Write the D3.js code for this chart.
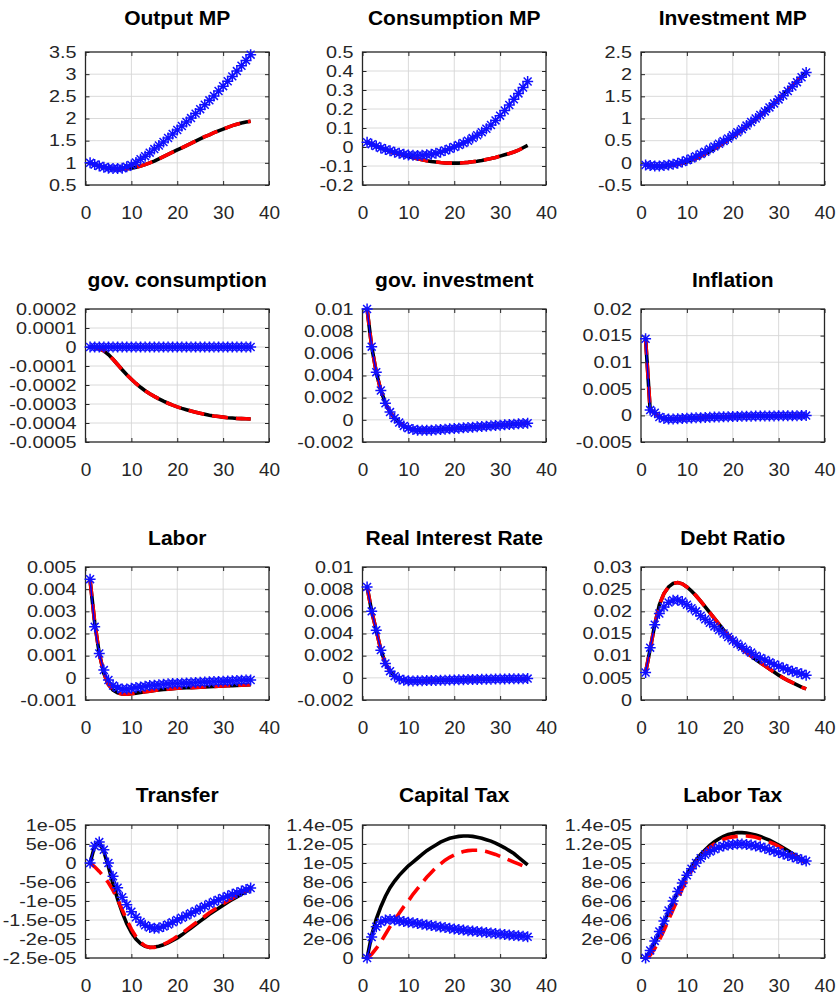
<!DOCTYPE html>
<html>
<head>
<meta charset="utf-8">
<script src="https://cdn.jsdelivr.net/npm/d3@7"></script>
<style>
  body { margin: 0; background: #fff; }
  text { font-family: "Liberation Sans", Arial, sans-serif; }
</style>
</head>
<body>
<div id="fig"></div>
<script>
// periods of the impulse responses
const periods = [1,2,3,4,5,6,7,8,9,10,11,12,13,14,15,16,17,18,19,20,21,22,23,24,25,26,27,28,29,30,31,32,33,34,35,36];
const xLabels = ["0","10","20","30","40"];

// Output MP
const outputBlack = [1.00,0.96,0.93,0.90,0.88,0.87,0.86,0.86,0.87,0.88,0.90,0.93,0.96,1.00,1.04,1.09,1.14,1.19,1.24,1.29,1.34,1.39,1.44,1.49,1.54,1.59,1.63,1.68,1.72,1.76,1.80,1.84,1.87,1.90,1.92,1.94];
const outputBlue = [1.00,0.96,0.93,0.90,0.88,0.87,0.87,0.88,0.91,0.95,1.01,1.08,1.15,1.23,1.31,1.39,1.47,1.56,1.65,1.74,1.83,1.92,2.01,2.11,2.21,2.31,2.41,2.51,2.62,2.73,2.84,2.95,3.07,3.19,3.31,3.44];
const outputTicks = ["0.5","1","1.5","2","2.5","3","3.5"];

// Consumption MP
const consBlack = [0.025,0.015,0.005,-0.005,-0.014,-0.022,-0.03,-0.037,-0.044,-0.05,-0.056,-0.062,-0.067,-0.072,-0.076,-0.079,-0.082,-0.084,-0.085,-0.085,-0.085,-0.083,-0.081,-0.078,-0.075,-0.071,-0.066,-0.061,-0.055,-0.048,-0.041,-0.034,-0.026,-0.017,-0.004,0.008];
const consBlue = [0.025,0.015,0.005,-0.005,-0.013,-0.02,-0.027,-0.033,-0.038,-0.042,-0.044,-0.045,-0.044,-0.041,-0.038,-0.033,-0.027,-0.018,-0.009,0.0,0.01,0.021,0.033,0.047,0.062,0.078,0.096,0.116,0.14,0.165,0.192,0.221,0.251,0.282,0.313,0.345];
const consTicks = ["-0.2","-0.1","0","0.1","0.2","0.3","0.4","0.5"];

// Investment MP
const invBlack = [-0.05,-0.06,-0.07,-0.07,-0.07,-0.06,-0.05,-0.03,-0.01,0.02,0.06,0.10,0.15,0.20,0.26,0.32,0.38,0.45,0.52,0.59,0.66,0.74,0.82,0.90,0.98,1.07,1.16,1.25,1.34,1.44,1.54,1.64,1.74,1.84,1.94,2.04];
const invBlue = [-0.05,-0.06,-0.07,-0.07,-0.06,-0.05,-0.03,-0.01,0.02,0.06,0.10,0.15,0.20,0.25,0.31,0.37,0.43,0.49,0.55,0.62,0.69,0.76,0.84,0.92,1.00,1.08,1.16,1.25,1.34,1.43,1.52,1.62,1.72,1.82,1.93,2.04];
const invTicks = ["-0.5","0","0.5","1","1.5","2","2.5"];

// gov. consumption
const govcBlack = [0,-2e-6,-8e-6,-2e-5,-4e-5,-6.5e-5,-9.2e-5,-1.2e-4,-1.46e-4,-1.7e-4,-1.92e-4,-2.12e-4,-2.3e-4,-2.46e-4,-2.6e-4,-2.73e-4,-2.85e-4,-2.96e-4,-3.06e-4,-3.15e-4,-3.23e-4,-3.3e-4,-3.37e-4,-3.43e-4,-3.49e-4,-3.54e-4,-3.59e-4,-3.63e-4,-3.66e-4,-3.69e-4,-3.72e-4,-3.74e-4,-3.76e-4,-3.77e-4,-3.78e-4,-3.79e-4];
const govcBlue = [0,0,0,0,0,0,0,0,0,0,0,0,0,0,0,0,0,0,0,0,0,0,0,0,0,0,0,0,0,0,0,0,0,0,0,0];
const govcTicks = ["-0.0005","-0.0004","-0.0003","-0.0002","-0.0001","0","0.0001","0.0002"];

// gov. investment
const goviAll = [1.0e-2,6.6e-3,4.3e-3,2.65e-3,1.5e-3,7e-4,1.5e-4,-2.5e-4,-5.5e-4,-7.5e-4,-8.7e-4,-9.3e-4,-9.5e-4,-9.5e-4,-9.3e-4,-9.0e-4,-8.7e-4,-8.4e-4,-8.1e-4,-7.8e-4,-7.5e-4,-7.2e-4,-6.9e-4,-6.6e-4,-6.3e-4,-6.0e-4,-5.7e-4,-5.4e-4,-5.1e-4,-4.8e-4,-4.5e-4,-4.2e-4,-3.9e-4,-3.6e-4,-3.3e-4,-3.0e-4];
const goviTicks = ["-0.002","0","0.002","0.004","0.006","0.008","0.01"];

// Inflation
const inflAll = [1.44e-2,1.0e-3,5e-4,-3e-4,-6e-4,-7e-4,-7e-4,-6.5e-4,-6e-4,-5.5e-4,-5e-4,-4.6e-4,-4.2e-4,-3.8e-4,-3.5e-4,-3.2e-4,-2.9e-4,-2.6e-4,-2.4e-4,-2.2e-4,-2e-4,-1.8e-4,-1.6e-4,-1.4e-4,-1.3e-4,-1.2e-4,-1.1e-4,-1e-4,-9e-5,-8e-5,-7e-5,-6e-5,-5e-5,-5e-5,-4e-5,-4e-5];
const inflTicks = ["-0.005","0","0.005","0.01","0.015","0.02"];

// Labor
const laborBlack = [4.4e-3,2.5e-3,1.1e-3,2e-4,-3e-4,-5.5e-4,-6.8e-4,-7.3e-4,-7.4e-4,-7.2e-4,-6.9e-4,-6.6e-4,-6.3e-4,-6e-4,-5.7e-4,-5.5e-4,-5.3e-4,-5.1e-4,-4.9e-4,-4.7e-4,-4.6e-4,-4.5e-4,-4.4e-4,-4.3e-4,-4.2e-4,-4.1e-4,-4e-4,-3.9e-4,-3.8e-4,-3.7e-4,-3.6e-4,-3.5e-4,-3.4e-4,-3.3e-4,-3.2e-4,-3.1e-4];
const laborBlue = [4.45e-3,2.3e-3,1.1e-3,3.5e-4,-1e-4,-3.5e-4,-4.5e-4,-5e-4,-5e-4,-4.7e-4,-4.4e-4,-4.1e-4,-3.8e-4,-3.5e-4,-3.3e-4,-3.1e-4,-2.9e-4,-2.7e-4,-2.6e-4,-2.5e-4,-2.4e-4,-2.3e-4,-2.2e-4,-2.1e-4,-2e-4,-1.9e-4,-1.8e-4,-1.7e-4,-1.6e-4,-1.5e-4,-1.4e-4,-1.3e-4,-1.2e-4,-1.1e-4,-1e-4,-1e-4];
const laborTicks = ["-0.001","0","0.001","0.002","0.003","0.004","0.005"];

// Real Interest Rate
const rirAll = [8.2e-3,6.0e-3,4.3e-3,2.5e-3,1.3e-3,6e-4,1.5e-4,-1e-4,-2.2e-4,-2.7e-4,-2.8e-4,-2.7e-4,-2.6e-4,-2.5e-4,-2.4e-4,-2.3e-4,-2.2e-4,-2.1e-4,-2e-4,-1.9e-4,-1.8e-4,-1.7e-4,-1.6e-4,-1.5e-4,-1.4e-4,-1.3e-4,-1.2e-4,-1.2e-4,-1.1e-4,-1e-4,-1e-4,-9e-5,-9e-5,-8e-5,-8e-5,-7e-5];
const rirTicks = ["-0.002","0","0.002","0.004","0.006","0.008","0.01"];

// Debt Ratio
const debtBlack = [6.2e-3,1.15e-2,1.7e-2,2.15e-2,2.4e-2,2.55e-2,2.63e-2,2.65e-2,2.62e-2,2.55e-2,2.46e-2,2.35e-2,2.23e-2,2.1e-2,1.97e-2,1.84e-2,1.71e-2,1.58e-2,1.46e-2,1.35e-2,1.25e-2,1.16e-2,1.07e-2,9.9e-3,9.1e-3,8.4e-3,7.7e-3,7.0e-3,6.3e-3,5.6e-3,5.0e-3,4.4e-3,3.9e-3,3.4e-3,2.9e-3,2.5e-3];
const debtBlue = [6.2e-3,1.18e-2,1.7e-2,1.95e-2,2.1e-2,2.2e-2,2.25e-2,2.25e-2,2.22e-2,2.15e-2,2.07e-2,2.0e-2,1.9e-2,1.82e-2,1.74e-2,1.66e-2,1.58e-2,1.5e-2,1.42e-2,1.34e-2,1.27e-2,1.2e-2,1.13e-2,1.07e-2,1.0e-2,9.5e-3,9.0e-3,8.5e-3,8.0e-3,7.6e-3,7.2e-3,6.8e-3,6.5e-3,6.2e-3,5.9e-3,5.6e-3];
const debtTicks = ["0","0.005","0.01","0.015","0.02","0.025","0.03"];

// Transfer
const transBlack = [0,4.5e-6,5.5e-6,3e-6,-1e-6,-5.5e-6,-9.5e-6,-1.3e-5,-1.6e-5,-1.83e-5,-2.0e-5,-2.12e-5,-2.19e-5,-2.22e-5,-2.21e-5,-2.19e-5,-2.15e-5,-2.1e-5,-2.04e-5,-1.97e-5,-1.89e-5,-1.8e-5,-1.71e-5,-1.62e-5,-1.53e-5,-1.44e-5,-1.35e-5,-1.27e-5,-1.19e-5,-1.11e-5,-1.03e-5,-9.6e-6,-8.9e-6,-8.2e-6,-7.5e-6,-6.8e-6];
const transRed = [0,-1e-6,-2.2e-6,-3.6e-6,-5.2e-6,-7.2e-6,-9.6e-6,-1.23e-5,-1.5e-5,-1.74e-5,-1.94e-5,-2.09e-5,-2.18e-5,-2.22e-5,-2.22e-5,-2.19e-5,-2.14e-5,-2.08e-5,-2.01e-5,-1.93e-5,-1.85e-5,-1.76e-5,-1.67e-5,-1.58e-5,-1.49e-5,-1.4e-5,-1.31e-5,-1.23e-5,-1.15e-5,-1.07e-5,-1.0e-5,-9.3e-6,-8.6e-6,-7.9e-6,-7.3e-6,-6.7e-6];
const transBlue = [0,4.5e-6,5.5e-6,3.5e-6,0,-3.5e-6,-6.5e-6,-9e-6,-1.1e-5,-1.28e-5,-1.43e-5,-1.55e-5,-1.64e-5,-1.7e-5,-1.72e-5,-1.71e-5,-1.67e-5,-1.62e-5,-1.56e-5,-1.5e-5,-1.44e-5,-1.38e-5,-1.32e-5,-1.26e-5,-1.2e-5,-1.14e-5,-1.08e-5,-1.02e-5,-9.7e-6,-9.2e-6,-8.7e-6,-8.2e-6,-7.8e-6,-7.4e-6,-7.0e-6,-6.6e-6];
const transTicks = ["-2.5e-05","-2e-05","-1.5e-05","-1e-05","-5e-06","0","5e-06","1e-05"];

// Capital Tax
const capBlack = [0,2.4e-6,4.1e-6,5.4e-6,6.5e-6,7.4e-6,8.1e-6,8.7e-6,9.2e-6,9.7e-6,1.01e-5,1.05e-5,1.09e-5,1.13e-5,1.16e-5,1.19e-5,1.22e-5,1.24e-5,1.26e-5,1.27e-5,1.28e-5,1.285e-5,1.285e-5,1.28e-5,1.27e-5,1.26e-5,1.245e-5,1.23e-5,1.21e-5,1.185e-5,1.16e-5,1.13e-5,1.1e-5,1.06e-5,1.02e-5,9.8e-6];
const capRed = [0,4e-7,1.0e-6,1.7e-6,2.5e-6,3.3e-6,4.0e-6,4.7e-6,5.4e-6,6.0e-6,6.7e-6,7.3e-6,7.9e-6,8.5e-6,9.0e-6,9.5e-6,9.9e-6,1.03e-5,1.06e-5,1.085e-5,1.105e-5,1.12e-5,1.13e-5,1.135e-5,1.135e-5,1.13e-5,1.12e-5,1.105e-5,1.09e-5,1.07e-5,1.05e-5,1.03e-5,1.01e-5,9.9e-6,9.7e-6,9.45e-6];
const capBlue = [0,2.2e-6,3.3e-6,3.8e-6,4.0e-6,4.05e-6,4.0e-6,3.93e-6,3.85e-6,3.77e-6,3.7e-6,3.62e-6,3.55e-6,3.48e-6,3.41e-6,3.34e-6,3.27e-6,3.2e-6,3.13e-6,3.06e-6,3.0e-6,2.94e-6,2.88e-6,2.83e-6,2.78e-6,2.73e-6,2.68e-6,2.63e-6,2.58e-6,2.53e-6,2.48e-6,2.43e-6,2.38e-6,2.33e-6,2.28e-6,2.23e-6];
const taxTicks = ["0","2e-06","4e-06","6e-06","8e-06","1e-05","1.2e-05","1.4e-05"];

// Labor Tax
const ltBlack = [0,7e-7,1.6e-6,2.6e-6,3.7e-6,4.8e-6,5.9e-6,6.9e-6,7.9e-6,8.8e-6,9.6e-6,1.03e-5,1.09e-5,1.14e-5,1.185e-5,1.225e-5,1.255e-5,1.28e-5,1.3e-5,1.31e-5,1.32e-5,1.32e-5,1.315e-5,1.305e-5,1.295e-5,1.28e-5,1.26e-5,1.24e-5,1.215e-5,1.19e-5,1.16e-5,1.13e-5,1.1e-5,1.07e-5,1.035e-5,1.0e-5];
const ltRed = [0,3e-7,1.0e-6,1.9e-6,2.9e-6,4.0e-6,5.1e-6,6.2e-6,7.3e-6,8.3e-6,9.2e-6,1.0e-5,1.07e-5,1.12e-5,1.165e-5,1.2e-5,1.23e-5,1.25e-5,1.265e-5,1.275e-5,1.28e-5,1.285e-5,1.285e-5,1.28e-5,1.27e-5,1.255e-5,1.24e-5,1.22e-5,1.2e-5,1.175e-5,1.15e-5,1.12e-5,1.09e-5,1.06e-5,1.03e-5,1.0e-5];
const ltBlue = [0,8e-7,1.8e-6,2.8e-6,3.9e-6,5.0e-6,6.0e-6,7.0e-6,7.9e-6,8.7e-6,9.4e-6,1.0e-5,1.05e-5,1.09e-5,1.12e-5,1.145e-5,1.165e-5,1.18e-5,1.19e-5,1.195e-5,1.2e-5,1.2e-5,1.195e-5,1.19e-5,1.18e-5,1.17e-5,1.155e-5,1.14e-5,1.125e-5,1.11e-5,1.095e-5,1.08e-5,1.065e-5,1.05e-5,1.035e-5,1.02e-5];

const panels = [
  {title: "Output MP", black: outputBlack, red: outputBlack, blue: outputBlue, ticks: outputTicks},
  {title: "Consumption MP", black: consBlack, red: consBlack, blue: consBlue, ticks: consTicks},
  {title: "Investment MP", black: invBlack, red: invBlack, blue: invBlue, ticks: invTicks},
  {title: "gov. consumption", black: govcBlack, red: govcBlack, blue: govcBlue, ticks: govcTicks},
  {title: "gov. investment", black: goviAll, red: goviAll, blue: goviAll, ticks: goviTicks},
  {title: "Inflation", black: inflAll, red: inflAll, blue: inflAll, ticks: inflTicks},
  {title: "Labor", black: laborBlack, red: laborBlack, blue: laborBlue, ticks: laborTicks},
  {title: "Real Interest Rate", black: rirAll, red: rirAll, blue: rirAll, ticks: rirTicks},
  {title: "Debt Ratio", black: debtBlack, red: debtBlack, blue: debtBlue, ticks: debtTicks},
  {title: "Transfer", black: transBlack, red: transRed, blue: transBlue, ticks: transTicks},
  {title: "Capital Tax", black: capBlack, red: capRed, blue: capBlue, ticks: taxTicks},
  {title: "Labor Tax", black: ltBlack, red: ltRed, blue: ltBlue, ticks: taxTicks}
];

// layout
const colLeft = [85.5, 362.5, 641],
      rowTop = [52, 309, 567, 825],
      titleBase = [24.5, 287, 544.5, 801.5],
      plotW = 183.5,
      plotH = 133,
      axisColor = "#262626";

// octave style '*' marker: plus + cross
const starSymbol = {
  draw(ctx, size) {
    const r = Math.sqrt(size) / 2, d = r * 0.72;
    ctx.moveTo(-r, 0); ctx.lineTo(r, 0);
    ctx.moveTo(0, -r); ctx.lineTo(0, r);
    ctx.moveTo(-d, -d); ctx.lineTo(d, d);
    ctx.moveTo(-d, d); ctx.lineTo(d, -d);
  }
};

const svg = d3.select("#fig").append("svg")
  .attr("width", 838)
  .attr("height", 995);

svg.append("rect").attr("width", 838).attr("height", 995).attr("fill", "#fff");

const xTickVals = xLabels.map(Number);

panels.forEach(function(p, i) {
  const col = i % 3, row = Math.floor(i / 3);
  const g = svg.append("g")
    .attr("transform", `translate(${colLeft[col]},${rowTop[row]})`);

  const yTickVals = p.ticks.map(Number);
  const x = d3.scaleLinear().domain([0, 40]).range([0, plotW]);
  const y = d3.scaleLinear()
    .domain([yTickVals[0], yTickVals[yTickVals.length - 1]])
    .range([plotH, 0]);

  // grid
  g.append("g").selectAll("line").data(xTickVals.slice(1, -1)).join("line")
    .attr("x1", d => x(d)).attr("x2", d => x(d))
    .attr("y1", 0).attr("y2", plotH)
    .attr("stroke", "#d6d6d6").attr("stroke-width", 0.9);
  g.append("g").selectAll("line").data(yTickVals.slice(1, -1)).join("line")
    .attr("x1", 0).attr("x2", plotW)
    .attr("y1", d => y(d)).attr("y2", d => y(d))
    .attr("stroke", "#d6d6d6").attr("stroke-width", 0.9);

  // axes (inward ticks, mirrored on top/right)
  const xAxis = g.append("g")
    .attr("transform", `translate(0,${plotH})`)
    .call(d3.axisBottom(x).tickValues(xTickVals).tickFormat((d, k) => xLabels[k])
      .tickSize(-4).tickPadding(20.5));
  const yAxis = g.append("g")
    .call(d3.axisLeft(y).tickValues(yTickVals).tickFormat((d, k) => p.ticks[k])
      .tickSize(-4).tickPadding(9));
  g.append("g").call(d3.axisTop(x).tickValues(xTickVals).tickFormat("").tickSize(-4));
  g.append("g").attr("transform", `translate(${plotW},0)`)
    .call(d3.axisRight(y).tickValues(yTickVals).tickFormat("").tickSize(-4));

  g.selectAll(".domain").remove();
  g.selectAll(".tick line").attr("stroke", axisColor);
  xAxis.selectAll("text")
    .attr("font-size", 19).attr("fill", axisColor)
    .style("font-family", "'Liberation Sans', Arial, sans-serif");
  yAxis.selectAll("text")
    .attr("font-size", 16.5).attr("fill", axisColor)
    .style("font-family", "'Liberation Sans', Arial, sans-serif")
    .attr("x", -9 / 1.2)
    .attr("transform", "scale(1.2,1)");

  g.append("rect")
    .attr("width", plotW).attr("height", plotH)
    .attr("fill", "none").attr("stroke", axisColor).attr("stroke-width", 1.3);

  const line = d3.line()
    .x((d, k) => x(periods[k]))
    .y(d => y(d));

  g.append("path").datum(p.black)
    .attr("fill", "none").attr("stroke", "#000").attr("stroke-width", 3.6)
    .attr("d", line);
  g.append("path").datum(p.red)
    .attr("fill", "none").attr("stroke", "#ff0000").attr("stroke-width", 3.6)
    .attr("stroke-dasharray", "16,8")
    .attr("d", line);
  g.append("path").datum(p.blue)
    .attr("fill", "none").attr("stroke", "#0000ff").attr("stroke-width", 1.5)
    .attr("d", line);
  g.append("g").selectAll("path").data(p.blue).join("path")
    .attr("transform", (d, k) => `translate(${x(periods[k])},${y(d)})`)
    .attr("d", d3.symbol().type(starSymbol).size(121))
    .attr("fill", "none").attr("stroke", "#1010ff").attr("stroke-width", 1.5);

  svg.append("text")
    .attr("x", colLeft[col] + plotW / 2)
    .attr("y", titleBase[row])
    .attr("text-anchor", "middle")
    .attr("font-size", 21)
    .attr("font-weight", "bold")
    .attr("fill", "#000")
    .text(p.title);
});
</script>
</body>
</html>
